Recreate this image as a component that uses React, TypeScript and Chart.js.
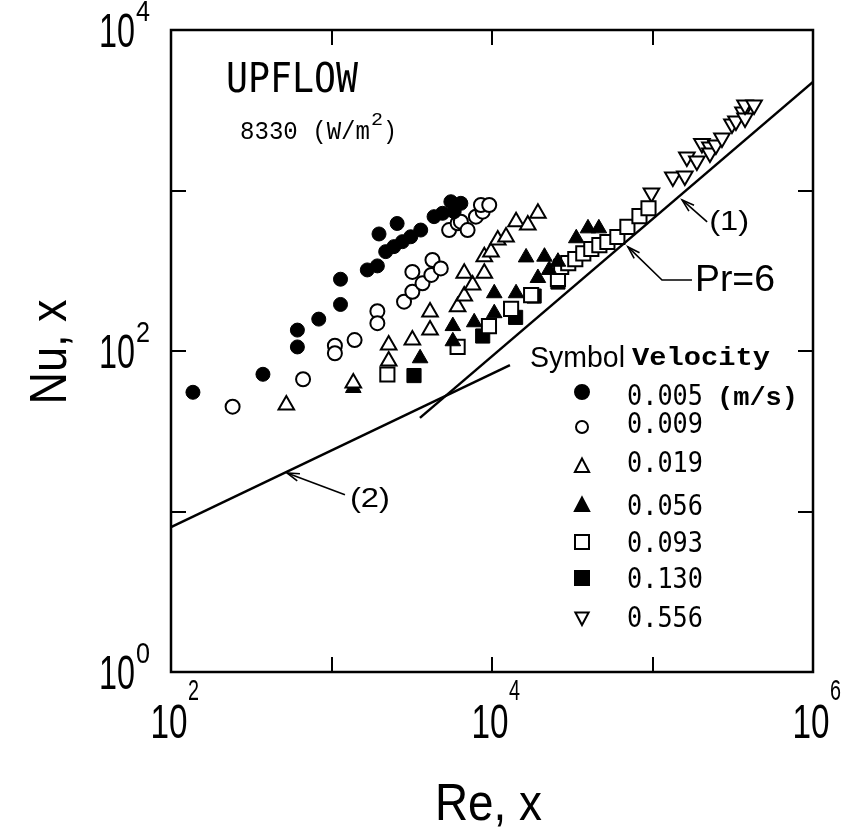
import React, { useEffect, useRef } from 'react';
import { Chart, registerables } from 'chart.js';

Chart.register(...registerables);

// ---------- data (Re_x, Nu_x) ----------
const velocities = ['0.005', '0.009', '0.019', '0.056', '0.093', '0.130', '0.556'];

const re005 = [137, 374, 613, 613, 833, 1138, 1138, 1671, 1931, 1977, 2176, 2449, 2564, 2766, 3117, 3597, 4355, 4917, 5543, 5810, 6397];
const nu005 = [55.3, 71.6, 106, 135, 158, 195, 280, 320, 339, 536, 416, 447, 623, 480, 515, 567, 687, 721, 851, 738, 832];

const re009 = [242, 665, 1050, 1050, 1393, 1931, 1931, 2831, 3190, 3190, 3690, 4188, 4256, 4797, 5405, 6106, 6397, 7047, 7943, 8750, 8531, 9611];
const nu009 = [45.0, 66.7, 108, 96.8, 117, 177, 149, 203, 234, 311, 264, 298, 369, 327, 567, 625, 639, 567, 687, 738, 812, 812];

const re019 = [523, 1367, 2271, 2271, 3190, 4111, 4111, 6106, 6714, 7568, 6714, 8954, 8954, 9857, 10860, 12230, 14125, 16710, 19320];
const nu019 = [46.1, 63.2, 109, 86.7, 117, 175, 135, 189, 220, 258, 305, 305, 387, 414, 492, 513, 639, 610, 721];

const re056 = [1367, 3565, 5702, 5702, 7745, 10330, 10330, 14125, 16310, 19320, 21230, 22710, 25760, 33500, 39630, 46320];
const nu056 = [58.8, 90.1, 143, 115, 151, 229, 172, 229, 383, 285, 387, 320, 360, 504, 581, 581];

const re093 = [2229, 6106, 9573, 13150, 17530, 25760, 26980, 29850, 33030, 37050, 41570, 46660, 52360, 60400, 69760, 82940, 94410];
const nu093 = [71.4, 106, 143, 183, 223, 281, 334, 353, 374, 406, 432, 457, 478, 513, 593, 693, 775];

const re130 = [3266, 8750, 14030, 18300, 25760];
const nu130 = [70.3, 124, 162, 220, 269];

const re556 = [98500, 133900, 159000, 163700, 189000, 203200, 228000, 228000, 248300, 270900, 312700, 331100, 366400, 377100, 377100, 429300];
const nu556 = [965, 1214, 1231, 1618, 1527, 1963, 1866, 1713, 1920, 2124, 2596, 2710, 3085, 2829, 3411, 3411];

// correlation lines
const line1Re = [3556, 1000000];
const line1Nu = [38.3, 4750];
const line2Re = [100, 12940];
const line2Nu = [8.0, 81.8];

// axes
const xMin = 100, xMax = 1e6, yMin = 1, yMax = 1e4;
const xTickExps = [2, 3, 4, 5, 6];
const yTickExps = [0, 1, 2, 3, 4];
const xLabelExps = [2, 4, 6];
const yLabelExps = [0, 2, 4];

// annotation anchors in data space [Re, Nu]
const arrow1 = [[2.19e5, 637], [1.53e5, 873]];
const arrowPr = [[1.762e5, 277], [1.146e5, 277], [7.03e4, 445]];
const arrow2 = [[1213, 12.7], [528, 17.4]];

// ---------- styles ----------
type Sym = 'circleFilled' | 'circleOpen' | 'triOpen' | 'triFilled' | 'squareOpen' | 'squareFilled' | 'triDownOpen';
const symbols: Sym[] = ['circleFilled', 'circleOpen', 'triOpen', 'triFilled', 'squareOpen', 'squareFilled', 'triDownOpen'];
const seriesRe = [re005, re009, re019, re056, re093, re130, re556];
const seriesNu = [nu005, nu009, nu019, nu056, nu093, nu130, nu556];

function pointOpts(s: Sym) {
  const filled = s === 'circleFilled' || s === 'triFilled' || s === 'squareFilled';
  let style: any = 'circle';
  let r = 7;
  let rot = 0;
  if (s.startsWith('tri')) { style = 'triangle'; r = 9; }
  if (s === 'triDownOpen') { rot = 180; }
  if (s.startsWith('square')) { style = 'rect'; r = 10; }
  return {
    pointStyle: style,
    pointRadius: r,
    pointRotation: rot,
    pointBackgroundColor: filled ? '#000' : '#fff',
    pointBorderColor: '#000',
    pointBorderWidth: filled ? 1 : 2,
    backgroundColor: filled ? '#000' : '#fff',
    borderColor: '#000',
  };
}

function drawSym(ctx: CanvasRenderingContext2D, s: Sym, x: number, y: number, r: number) {
  const filled = s === 'circleFilled' || s === 'triFilled' || s === 'squareFilled';
  ctx.save();
  ctx.lineWidth = 2;
  ctx.strokeStyle = '#000';
  ctx.fillStyle = filled ? '#000' : '#fff';
  ctx.beginPath();
  if (s.startsWith('circle')) {
    ctx.arc(x, y, r, 0, Math.PI * 2);
  } else if (s.startsWith('square')) {
    ctx.rect(x - r, y - r, 2 * r, 2 * r);
  } else {
    const dir = s === 'triDownOpen' ? 1 : -1;
    ctx.moveTo(x, y + dir * r);
    ctx.lineTo(x + r * 0.95, y - dir * r * 0.8);
    ctx.lineTo(x - r * 0.95, y - dir * r * 0.8);
    ctx.closePath();
  }
  ctx.fill();
  ctx.stroke();
  ctx.restore();
}

function fitText(ctx: CanvasRenderingContext2D, text: string, x: number, y: number, width: number, font: string, align: CanvasTextAlign = 'left') {
  ctx.save();
  ctx.font = font;
  ctx.textAlign = align;
  ctx.textBaseline = 'alphabetic';
  const w = ctx.measureText(text).width;
  const s = w > 0 ? width / w : 1;
  ctx.translate(x, y);
  ctx.scale(s, 1);
  ctx.fillStyle = '#000';
  ctx.fillText(text, 0, 0);
  ctx.restore();
}

function arrowPath(ctx: CanvasRenderingContext2D, pts: number[][]) {
  ctx.save();
  ctx.strokeStyle = '#000';
  ctx.lineWidth = 1.6;
  ctx.beginPath();
  ctx.moveTo(pts[0][0], pts[0][1]);
  for (let i = 1; i < pts.length; i++) ctx.lineTo(pts[i][0], pts[i][1]);
  ctx.stroke();
  const [ex, ey] = pts[pts.length - 1];
  const [sx, sy] = pts[pts.length - 2];
  const ang = Math.atan2(ey - sy, ex - sx);
  const L = 13;
  const a = 0.3;
  ctx.beginPath();
  ctx.moveTo(ex - L * Math.cos(ang - a), ey - L * Math.sin(ang - a));
  ctx.lineTo(ex, ey);
  ctx.lineTo(ex - L * Math.cos(ang + a), ey - L * Math.sin(ang + a));
  ctx.stroke();
  ctx.restore();
}

const SANS = '"Liberation Sans", "DejaVu Sans", sans-serif';
const MONO_SANS = '"DejaVu Sans Mono", monospace';
const MONO_SERIF = '"Liberation Mono", "Courier New", monospace';

const overlayPlugin = {
  id: 'overlay',
  afterDraw(chart: any) {
    const ctx: CanvasRenderingContext2D = chart.ctx;
    const { left, right, top, bottom } = chart.chartArea;
    const xs = chart.scales.x;
    const ys = chart.scales.y;
    const P = (p: number[]) => [xs.getPixelForValue(p[0]), ys.getPixelForValue(p[1])];

    ctx.save();
    ctx.strokeStyle = '#000';
    // frame
    ctx.lineWidth = 2.5;
    ctx.strokeRect(left, top, right - left, bottom - top);
    ctx.lineWidth = 2;
    // inward ticks
    const tl = 15;
    xTickExps.forEach((e) => {
      const px = Math.round(xs.getPixelForValue(Math.pow(10, e)));
      ctx.beginPath();
      ctx.moveTo(px, bottom); ctx.lineTo(px, bottom - tl);
      ctx.moveTo(px, top); ctx.lineTo(px, top + tl);
      ctx.stroke();
    });
    yTickExps.forEach((e) => {
      const py = Math.round(ys.getPixelForValue(Math.pow(10, e)));
      ctx.beginPath();
      ctx.moveTo(left, py); ctx.lineTo(left + tl, py);
      ctx.moveTo(right, py); ctx.lineTo(right - tl, py);
      ctx.stroke();
    });
    ctx.restore();

    // tick labels
    xLabelExps.forEach((e) => {
      const px = xs.getPixelForValue(Math.pow(10, e));
      fitText(ctx, '10', px - 2, bottom + 66, 37, `48px ${SANS}`, 'center');
      fitText(ctx, String(e), px + 17, bottom + 28, 11, `30px ${SANS}`);
    });
    yLabelExps.forEach((e) => {
      const py = ys.getPixelForValue(Math.pow(10, e));
      fitText(ctx, '10', left - 72, py + 17, 36, `48px ${SANS}`);
      fitText(ctx, String(e), left - 35, py - 9, 14, `30px ${SANS}`);
    });

    // axis titles
    fitText(ctx, 'Re, x', 435, 820, 107, `52px ${SANS}`);
    ctx.save();
    ctx.translate(66, 352);
    ctx.rotate(-Math.PI / 2);
    fitText(ctx, 'Nu, x', 0, 0, 105, `52px ${SANS}`, 'center');
    ctx.restore();

    // inner texts
    fitText(ctx, 'UPFLOW', 226, 92, 132, `41px ${MONO_SANS}`);
    fitText(ctx, '8330 (W/m', 240, 139, 130, `25px ${MONO_SERIF}`);
    fitText(ctx, '2', 371, 125, 12, `18px ${MONO_SERIF}`);
    fitText(ctx, ')', 383, 139, 14, `25px ${MONO_SERIF}`);

    // arrows and labels
    const a1 = arrow1.map(P);
    arrowPath(ctx, a1);
    fitText(ctx, '(1)', a1[0][0] + 2, a1[0][1] + 8, 40, `28px ${SANS}`);
    const ap = arrowPr.map(P);
    arrowPath(ctx, ap);
    fitText(ctx, 'Pr=6', ap[0][0] + 3, ap[0][1] + 11, 80, `37px ${SANS}`);
    const a2 = arrow2.map(P);
    arrowPath(ctx, a2);
    fitText(ctx, '(2)', a2[0][0] + 5, a2[0][1] + 12, 40, `28px ${SANS}`);

    // legend block
    fitText(ctx, 'Symbol', 530, 367, 95, `30px ${SANS}`);
    fitText(ctx, 'Velocity', 632, 365, 138, `bold 26px ${MONO_SERIF}`);
    const symY = [392, 427, 466, 505, 542, 578, 618];
    const txtY = [405, 433, 472, 515, 552, 588, 627];
    const symR = [7, 6, 7.5, 7.5, 7, 7, 7];
    velocities.forEach((v, i) => {
      drawSym(ctx, symbols[i], 582, symY[i], symR[i]);
      fitText(ctx, v, 627, txtY[i], 76, `28px ${MONO_SANS}`);
    });
    fitText(ctx, '(m/s)', 717, 405, 81, `bold 26px ${MONO_SERIF}`);
  },
};

export default function App() {
  const ref = useRef<HTMLCanvasElement>(null);

  useEffect(() => {
    if (!ref.current) return;
    const datasets: any[] = velocities.map((v, i) => ({
      label: v,
      data: seriesRe[i].map((r, k) => ({ x: r, y: seriesNu[i][k] })),
      showLine: false,
      ...pointOpts(symbols[i]),
    }));
    datasets.unshift(
      {
        label: '(1)',
        data: line1Re.map((r, k) => ({ x: r, y: line1Nu[k] })),
        showLine: true,
        borderColor: '#000',
        borderWidth: 2.5,
        pointRadius: 0,
        fill: false,
      },
      {
        label: '(2)',
        data: line2Re.map((r, k) => ({ x: r, y: line2Nu[k] })),
        showLine: true,
        borderColor: '#000',
        borderWidth: 2.5,
        pointRadius: 0,
        fill: false,
      }
    );

    const chart = new Chart(ref.current, {
      type: 'scatter',
      data: { datasets },
      options: {
        animation: false,
        responsive: false,
        devicePixelRatio: 1,
        layout: { padding: { left: 171, top: 30, right: 32, bottom: 162 } },
        plugins: { legend: { display: false }, tooltip: { enabled: false } },
        scales: {
          x: {
            type: 'logarithmic',
            min: xMin,
            max: xMax,
            grid: { display: false, drawTicks: false, drawOnChartArea: false },
            border: { display: false },
            ticks: { display: false },
          },
          y: {
            type: 'logarithmic',
            min: yMin,
            max: yMax,
            grid: { display: false, drawTicks: false, drawOnChartArea: false },
            border: { display: false },
            ticks: { display: false },
          },
        },
      },
      plugins: [overlayPlugin],
    } as any);
    return () => chart.destroy();
  }, []);

  return (
    <div style={{ position: 'fixed', left: 0, top: 0, width: 845, height: 834, background: '#fff' }}>
      <canvas ref={ref} width={845} height={834} style={{ display: 'block', width: 845, height: 834 }} />
    </div>
  );
}
